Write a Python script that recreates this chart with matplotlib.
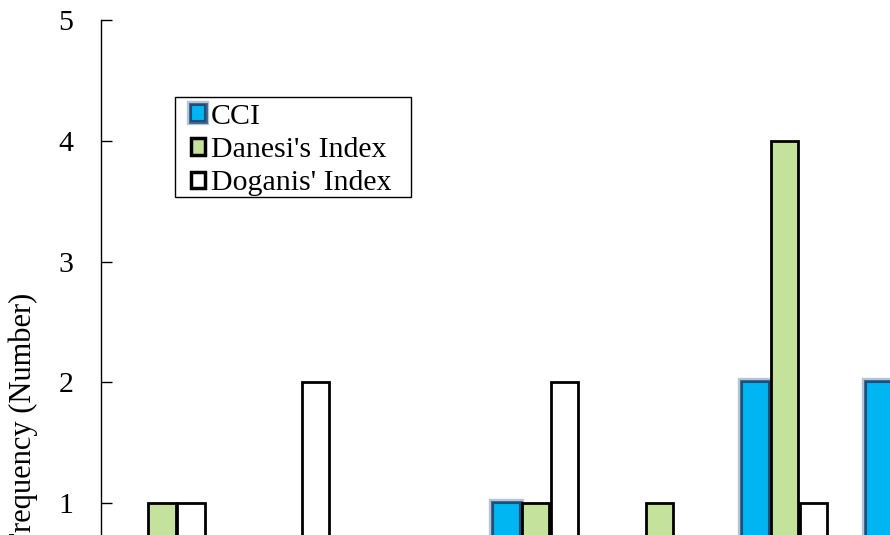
import numpy as np
import matplotlib
matplotlib.use('Agg')
from matplotlib import pyplot as plt
import matplotlib.patheffects as pe
from matplotlib.patches import Rectangle

groups = np.arange(7)
cci = [0, 0, 0, 1, 0, 2, 2]
danesi = [1, 0, 0, 1, 1, 4, 0]
doganis = [1, 2, 0, 2, 0, 1, 0]
labels = ['CCI', "Danesi's Index", "Doganis' Index"]
yticks = [1, 2, 3, 4, 5]

plt.rcParams['font.family'] = ['Liberation Serif', 'DejaVu Serif']

fig = plt.figure(figsize=(8.9, 5.35), dpi=100)
ax = fig.add_axes([101 / 890, 0.0, 1 - 101 / 890, 1 - 20 / 535])

w = 0.22
off = 0.233
# soft dark-blue rim around the CCI bars
glow = [pe.Stroke(linewidth=6, foreground='#2b5b8c', alpha=0.35),
        pe.Stroke(linewidth=3.5, foreground='#1f4e79', alpha=0.8), pe.Normal()]
b1 = ax.bar(groups - off, cci, w, color='#00b6f2', edgecolor='#1f4e79',
            linewidth=1.5, label=labels[0])
for b in b1:
    b.set_path_effects(glow)
ax.bar(groups, danesi, w, color='#c4e29b', edgecolor='black', linewidth=2,
       label=labels[1])
ax.bar(groups + off, doganis, w, color='white', edgecolor='black', linewidth=2,
       label=labels[2])

ax.set_xlim(-0.49, 5.85)
ax.set_ylim(0.735, 5)
ax.set_yticks(yticks)
ax.tick_params(axis='y', direction='in', length=8, width=1, labelsize=21.5, pad=20)
ax.set_xticks([])
for s in ['top', 'right', 'bottom']:
    ax.spines[s].set_visible(False)
ax.spines['left'].set_linewidth(1)

# legend box drawn by hand, it has wider side padding than top/bottom
ax.add_patch(Rectangle((74 / 789, 338 / 515), 236 / 789, 100 / 515,
                       transform=ax.transAxes, facecolor='white',
                       edgecolor='black', linewidth=1, zorder=4))
leg = ax.legend(loc='upper left', bbox_to_anchor=(90 / 789, 431 / 515),
                borderaxespad=0, borderpad=0, fontsize=21.5, frameon=False,
                handlelength=0.46, handleheight=0.46, handletextpad=0.2,
                labelspacing=0.24)
leg.set_zorder(5)
leg.legend_handles[0].set_path_effects(glow)
for h in leg.legend_handles[1:]:
    h.set_linewidth(2.5)

fig.text(23 / 890, 1 - 293 / 535, 'Frequency (Number)', rotation=90,
         ha='center', va='top', fontsize=22)

fig.savefig('out.png', dpi=100)
